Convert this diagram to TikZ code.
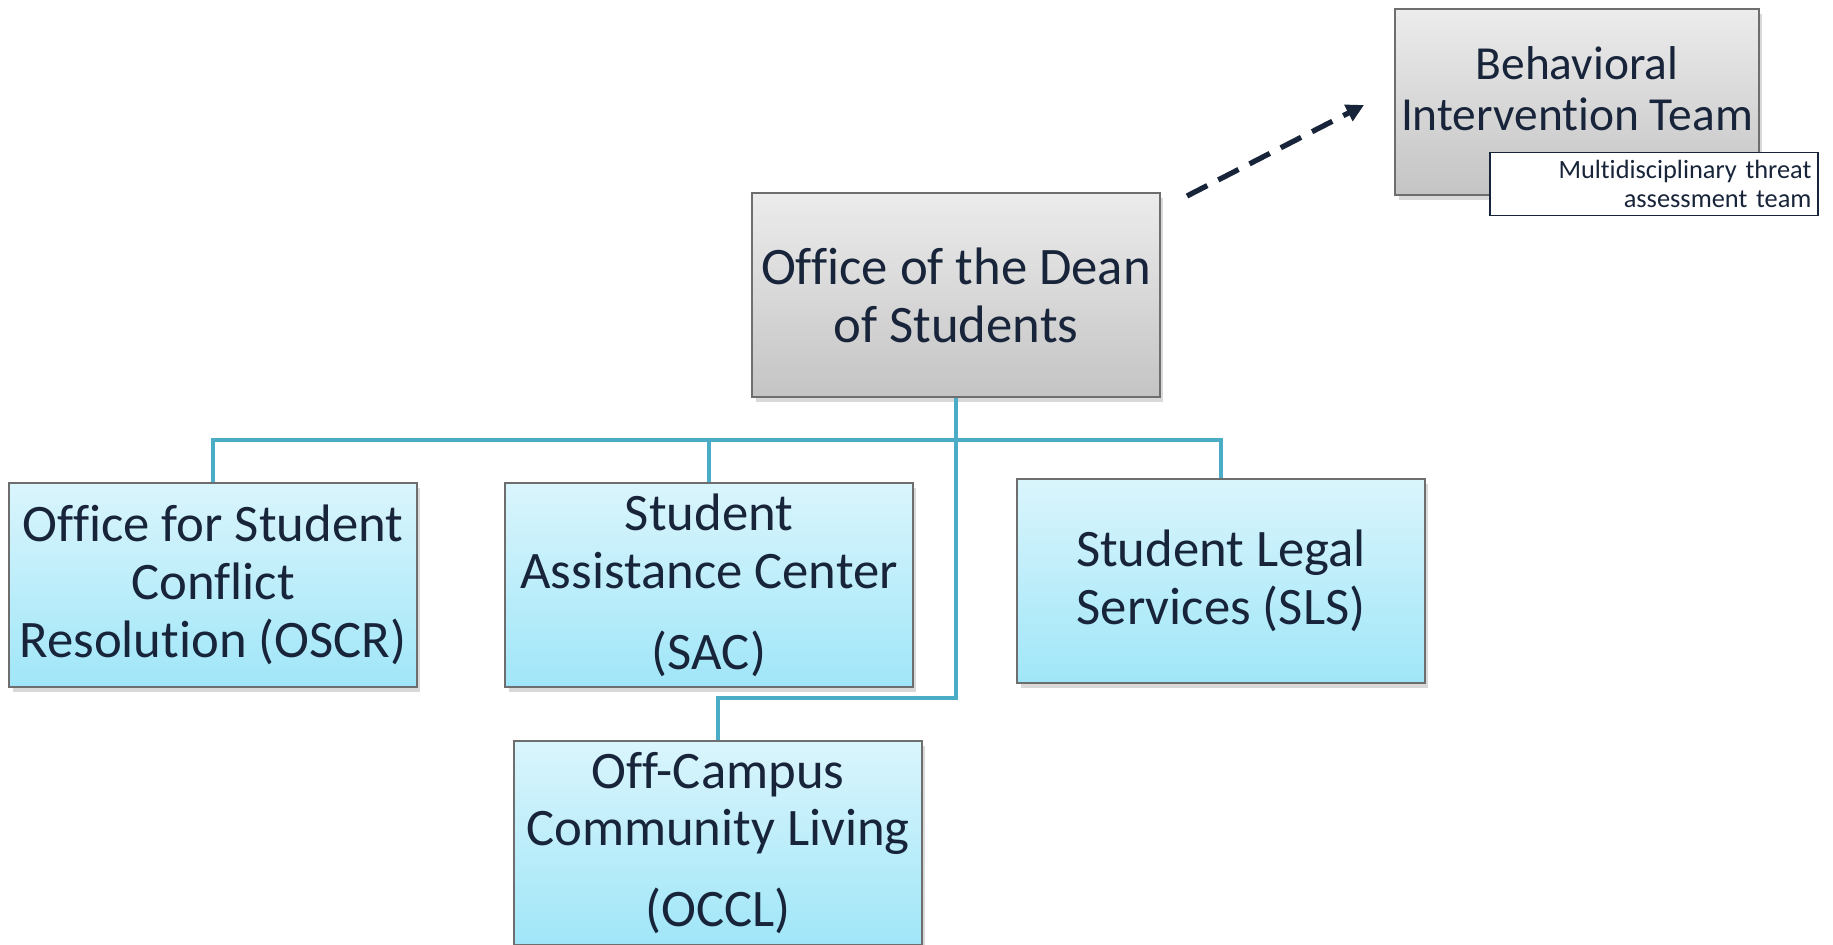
\documentclass[tikz,border=0pt]{standalone}
\usepackage{fontspec}
\setmainfont{Carlito}[Ligatures=NoCommon]
\usetikzlibrary{arrows.meta,shadows}

\definecolor{navy}{RGB}{24,36,58}
\definecolor{boxedge}{RGB}{110,110,110}
\definecolor{greytop}{RGB}{236,236,236}
\definecolor{greybot}{RGB}{196,196,196}
\definecolor{bluetop}{RGB}{218,245,252}
\definecolor{bluebot}{RGB}{160,230,248}
\definecolor{linkblue}{RGB}{75,172,198}

\begin{document}
\begin{tikzpicture}[x=0.02cm, y=-0.02cm,
  unitbox/.style={draw=boxedge, line width=0.8pt, align=center, text=navy,
    minimum width=8.16cm, minimum height=4.08cm, inner sep=2pt,
    font=\fontsize{30}{33}\selectfont,
    drop shadow={shadow xshift=2pt, shadow yshift=-3pt, opacity=0.3}},
  greybox/.style={unitbox, top color=greytop, bottom color=greybot},
  bluebox/.style={unitbox, top color=bluetop, bottom color=bluebot},
  notebox/.style={draw=navy, line width=1pt, fill=white, text=navy,
    align=right, text width=6.3cm, inner xsep=0.12cm,
    minimum width=6.56cm, minimum height=1.26cm,
    font=\fontsize{15}{16.5}\selectfont},
  link/.style={draw=linkblue, line width=2.6pt},
  dasharrow/.style={draw=navy, line width=3pt, dash pattern=on 13pt off 7pt,
    -{Triangle[length=10pt, width=10pt]}}]

% Frame
\useasboundingbox (0,0) rectangle (1833,945);

% Top of the chart
\node[greybox] (dean) at (956,295) {Office of the Dean\\of Students};
\node[greybox, minimum width=7.28cm, minimum height=3.72cm, text depth=15pt,
  font=\fontsize{27}{29}\selectfont] (bit) at (1577,102)
  {Behavioral\\Intervention Team};
\node[notebox] (bitnote) at (1654,184) {Multidisciplinary threat\\assessment team};

% Dotted-line reporting
\coordinate (dashstart) at (1187,196);
\coordinate (dashend) at (1364,105);
\draw[dasharrow] (dashstart) -- (dashend);

% Units
\node[bluebox] (oscr) at (213,585) {Office for Student\\Conflict\\Resolution (OSCR)};
\node[bluebox] (sac) at (709,585) {Student\\Assistance Center\\[13pt](SAC)};
\node[bluebox] (sls) at (1221,581) {Student Legal\\Services (SLS)};
\node[bluebox] (occl) at (718,843) {Off-Campus\\Community Living\\[13pt](OCCL)};

% Connectors
\coordinate (bus) at (956,440);
\coordinate (elbow) at (956,698);
\draw[link] (dean.south) -- (bus);
\draw[link] (bus) -| (oscr.north);
\draw[link] (bus) -| (sac.north);
\draw[link] (bus) -| (sls.north);
\draw[link] (bus) -- (elbow) -| (occl.north);

\end{tikzpicture}
\end{document}
